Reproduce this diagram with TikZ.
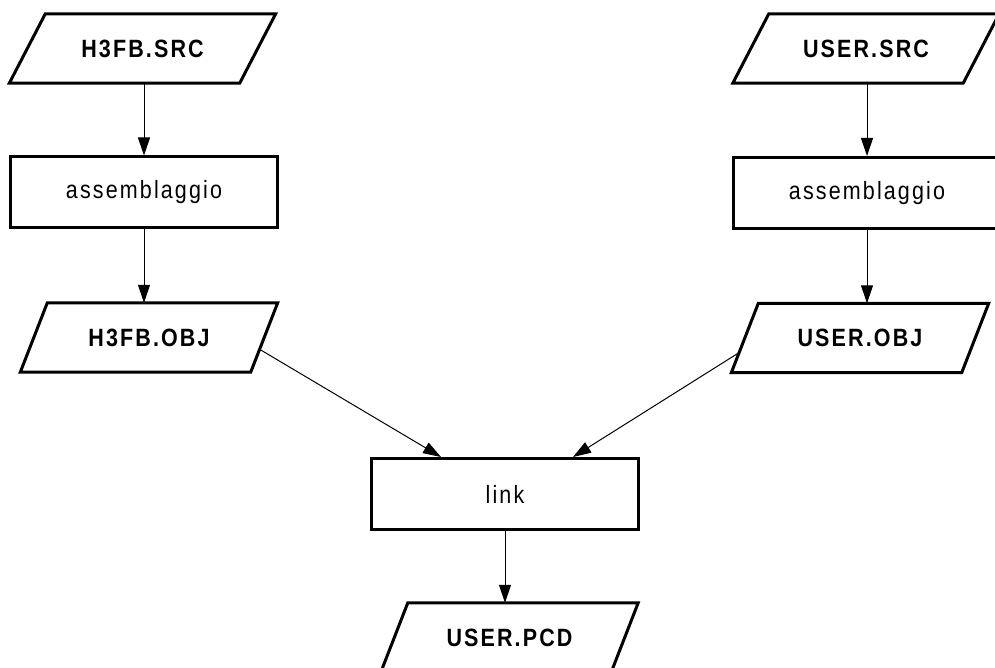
\documentclass[tikz,border=0pt]{standalone}
\usepackage{fontspec}
\setmainfont{Liberation Sans}[FakeStretch=0.86, LetterSpace=8.5]
\usetikzlibrary{arrows.meta,calc}

\tikzset{
  filenode/.style={rectangle, minimum width=230pt, minimum height=69pt,
    inner sep=0pt, font=\bfseries\fontsize{25}{30}\selectfont},
  stepbox/.style={rectangle, draw, line width=3pt, line join=miter,
    minimum width=267pt, minimum height=71pt, inner sep=0pt,
    font=\fontsize{25}{30}\selectfont},
  outline/.style={line width=3pt, line join=miter},
  arr/.style={-{Triangle[length=18pt,width=12pt]}, line width=1pt}
}

% slanted data outline around a file node; #2 is half the horizontal skew
\newcommand\slantbox[2]{%
  \draw[outline] ([xshift=#2]#1.north west) -- ([xshift=#2]#1.north east)
    -- ([xshift=-#2]#1.south east) -- ([xshift=-#2]#1.south west) -- cycle;}

\begin{document}
\begin{tikzpicture}[x=1pt,y=-1pt]
  \clip (0,0) rectangle (995,668);

  % left chain
  \node[filenode] (src1) at (142.5,48.5) {H3FB.SRC};
  \node[stepbox]  (asm1) at (144,192.5) {assemblaggio};
  \node[filenode] (obj1) at (149,337.5) {H3FB.OBJ};

  % right chain
  \node[filenode] (src2) at (866,48.5) {USER.SRC};
  \node[stepbox]  (asm2) at (867,193) {assemblaggio};
  \node[filenode] (obj2) at (860,338) {USER.OBJ};

  % linking
  \node[stepbox]  (link) at (505,494) {link};
  \node[filenode] (pcd)  at (509.5,637.5) {USER.PCD};

  \slantbox{src1}{18pt}
  \slantbox{src2}{18pt}
  \slantbox{obj1}{13.5pt}
  \slantbox{obj2}{13.5pt}
  \slantbox{pcd}{13.5pt}

  \draw[arr] (asm1.north |- src1.south) -- (asm1.north);
  \draw[arr] (asm1.south) -- (asm1.south |- obj1.north);
  \draw[arr] (asm2.north |- src2.south) -- (asm2.north);
  \draw[arr] (asm2.south) -- (asm2.south |- obj2.north);

  \draw[arr] ($([xshift=-13.5pt]obj1.south east)!0.33!([xshift=13.5pt]obj1.north east)$)
    -- ($(link.north west)!0.263!(link.north east)$);
  \draw[arr] ($([xshift=-13.5pt]obj2.south west)!0.29!([xshift=13.5pt]obj2.north west)$)
    -- ($(link.north west)!0.752!(link.north east)$);

  \draw[arr] (link.south) -- (link.south |- pcd.north);
\end{tikzpicture}
\end{document}
